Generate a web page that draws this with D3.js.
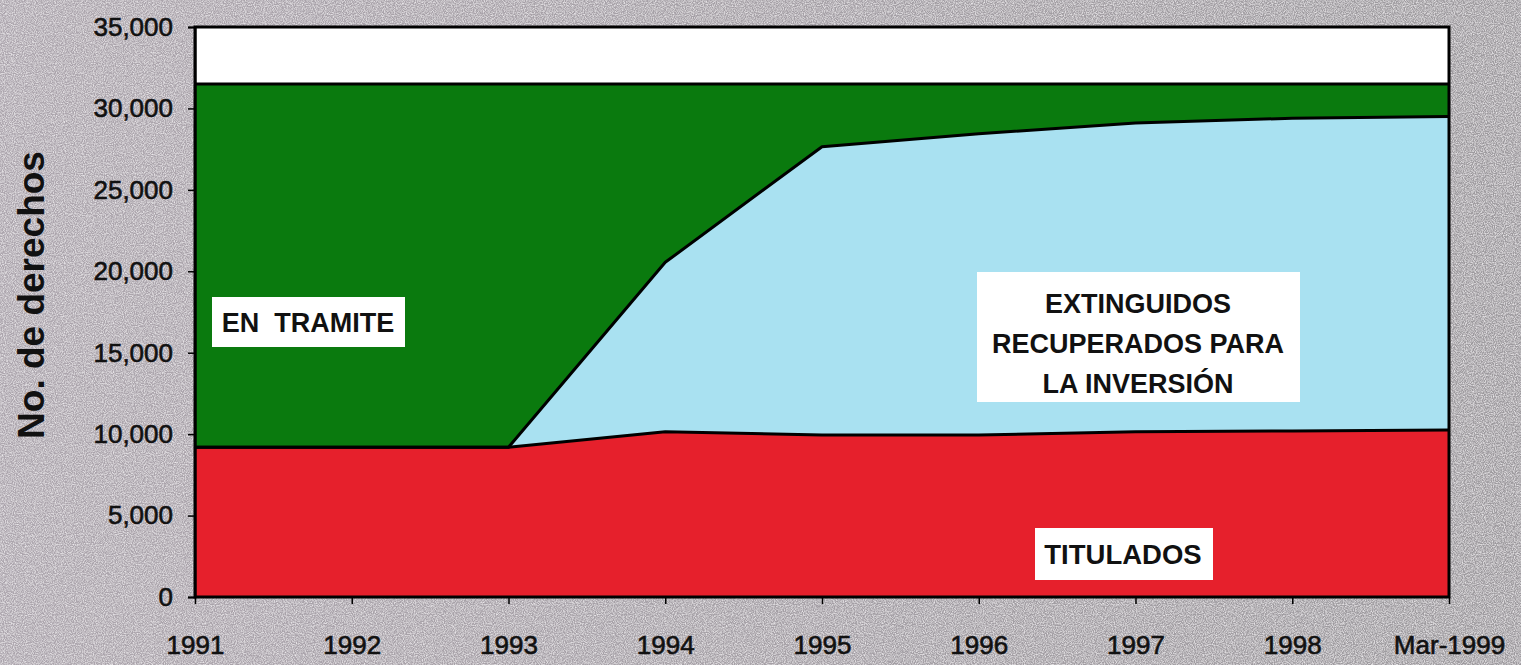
<!DOCTYPE html>
<html>
<head>
<meta charset="utf-8">
<script src="https://cdn.jsdelivr.net/npm/d3@7"></script>
<style>
  html, body { margin: 0; padding: 0; background: #a8a3a8; }
  svg { display: block; }
</style>
</head>
<body>
<svg id="chart" width="1521" height="665"></svg>
<script>
// Periods on the horizontal axis
const periods = ["1991", "1992", "1993", "1994", "1995", "1996", "1997", "1998", "Mar-1999"];

// Mining rights by status (number of rights)
const titulados   = [9200, 9200, 9200, 10150, 9950, 9950, 10150, 10200, 10250];
const extinguidos = [0, 0, 0, 10400, 17700, 18500, 18950, 19200, 19250];
const enTramite   = [22300, 22300, 22300, 10950, 3850, 3050, 2400, 2100, 2000];

const yTicks = [0, 5000, 10000, 15000, 20000, 25000, 30000, 35000];

const seriesKeys = ["titulados", "extinguidos", "enTramite"];
const seriesColors = { titulados: "#e6202c", extinguidos: "#a9e1f1", enTramite: "#0a7a0e" };

const rows = periods.map((p, i) => ({
  period: p,
  titulados: titulados[i],
  extinguidos: extinguidos[i],
  enTramite: enTramite[i]
}));

const svg = d3.select("#chart");
const W = 1521, H = 665;
const plotL = 195, plotR = 1449, plotT = 27, plotB = 597;
const FONT = "Liberation Sans, Arial, sans-serif";

// Textured paper background
const defs = svg.append("defs");
const grain = defs.append("filter").attr("id", "grain").attr("x", 0).attr("y", 0).attr("width", "100%").attr("height", "100%");
grain.append("feTurbulence").attr("type", "fractalNoise").attr("baseFrequency", 0.9).attr("numOctaves", 2).attr("seed", 3).attr("result", "noise");
grain.append("feColorMatrix").attr("in", "noise").attr("type", "matrix")
  .attr("values", "0 0 0 0 0.9  0 0 0 0 0.88  0 0 0 0 0.9  0 0 0 -1.6 1.05").attr("result", "speck");
grain.append("feComposite").attr("in", "speck").attr("in2", "SourceGraphic").attr("operator", "in").attr("result", "sp");
grain.append("feMerge").selectAll("feMergeNode").data(["SourceGraphic", "sp"]).join("feMergeNode").attr("in", d => d);

const bgGrad = defs.append("linearGradient").attr("id", "bgGrad").attr("x1", 0).attr("x2", 1).attr("y1", 0).attr("y2", 0);
bgGrad.append("stop").attr("offset", "0%").attr("stop-color", "#aca5ad");
bgGrad.append("stop").attr("offset", "100%").attr("stop-color", "#9d9a9e");

svg.append("rect").attr("width", W).attr("height", H).attr("fill", "url(#bgGrad)").attr("filter", "url(#grain)");

const x = d3.scalePoint().domain(periods).range([plotL, plotR]).padding(0);
const y = d3.scaleLinear().domain([0, 35000]).range([plotB, plotT]);

// Plot background
svg.append("rect")
  .attr("x", plotL).attr("y", plotT)
  .attr("width", plotR - plotL).attr("height", plotB - plotT)
  .attr("fill", "#ffffff");

const stacked = d3.stack().keys(seriesKeys)(rows);

const area = d3.area()
  .x(d => x(d.data.period))
  .y0(d => y(d[0]))
  .y1(d => y(d[1]));

svg.append("g").selectAll("path")
  .data(stacked)
  .join("path")
  .attr("d", area)
  .attr("fill", d => seriesColors[d.key]);

// Boundary lines on top of each layer
const edge = d3.line()
  .x(d => x(d.data.period))
  .y(d => y(d[1]));

svg.append("g").selectAll("path")
  .data(stacked)
  .join("path")
  .attr("d", edge)
  .attr("fill", "none")
  .attr("stroke", "#000")
  .attr("stroke-width", 3)
  .attr("stroke-linejoin", "round");

// Plot frame
svg.append("rect")
  .attr("x", plotL).attr("y", plotT)
  .attr("width", plotR - plotL).attr("height", plotB - plotT)
  .attr("fill", "none")
  .attr("stroke", "#000")
  .attr("stroke-width", 3);

// Y axis
const yAxis = svg.append("g")
  .attr("transform", `translate(${plotL},0)`)
  .call(d3.axisLeft(y).tickValues(yTicks).tickSize(7).tickPadding(15).tickFormat(d3.format(",")));
yAxis.select(".domain").attr("stroke", "#000").attr("stroke-width", 2);
yAxis.selectAll(".tick line").attr("stroke", "#000").attr("stroke-width", 1.5);
yAxis.selectAll(".tick text")
  .attr("font-family", FONT)
  .attr("font-size", 26)
  .attr("fill", "#111")
  .attr("stroke", "#111")
  .attr("stroke-width", 0.6);

// X axis
const xAxis = svg.append("g")
  .attr("transform", `translate(0,${plotB})`)
  .call(d3.axisBottom(x).tickSize(7).tickPadding(32));
xAxis.select(".domain").remove();
xAxis.selectAll(".tick line").attr("stroke", "#000").attr("stroke-width", 1.5);
xAxis.selectAll(".tick text")
  .attr("font-family", FONT)
  .attr("font-size", 26)
  .attr("fill", "#111")
  .attr("stroke", "#111")
  .attr("stroke-width", 0.6);

// Y axis title
svg.append("text")
  .attr("transform", "translate(44,295) rotate(-90)")
  .attr("text-anchor", "middle")
  .attr("font-family", FONT)
  .attr("font-weight", "bold")
  .attr("font-size", 37)
  .attr("fill", "#111")
  .text("No. de derechos");

// Series labels in white boxes
const labels = [
  { lines: ["EN  TRAMITE"], box: [212, 297, 193, 50], cx: 308, y0: 332, size: 27 },
  { lines: ["EXTINGUIDOS", "RECUPERADOS PARA", "LA INVERSIÓN"], box: [977, 272, 323, 130], cx: 1138, y0: 313, size: 27, lh: 40 },
  { lines: ["TITULADOS"], box: [1035, 528, 178, 52], cx: 1123, y0: 564, size: 27.5 }
];

labels.forEach(l => {
  svg.append("rect")
    .attr("x", l.box[0]).attr("y", l.box[1])
    .attr("width", l.box[2]).attr("height", l.box[3])
    .attr("fill", "#fff");
  const t = svg.append("text")
    .attr("text-anchor", "middle")
    .attr("font-family", FONT)
    .attr("font-weight", "bold")
    .attr("font-size", l.size)
    .attr("fill", "#111")
    .style("white-space", "pre");
  l.lines.forEach((s, i) => {
    t.append("tspan").attr("x", l.cx).attr("y", l.y0 + i * (l.lh || 0)).text(s);
  });
});
</script>
</body>
</html>
